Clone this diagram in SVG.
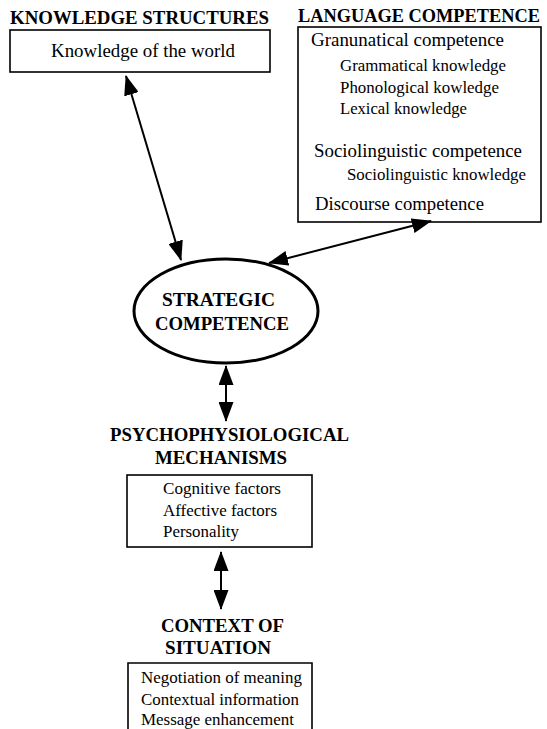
<svg xmlns="http://www.w3.org/2000/svg" width="547" height="729" viewBox="0 0 547 729">
<style>
text{font-family:"Liberation Serif","Times New Roman",serif;fill:#000}
.t{font-weight:bold;font-size:19px}
.b{font-size:19px}
.s{font-size:17px}
.box{fill:none;stroke:#000;stroke-width:1.6}
.conn{stroke:#000;stroke-width:2;fill:none;marker-start:url(#ah);marker-end:url(#ah)}
</style>
<defs>
<marker id="ah" viewBox="0 0 20 15" refX="19" refY="7.5" markerWidth="20" markerHeight="15" markerUnits="userSpaceOnUse" orient="auto-start-reverse">
<path d="M0,0 L20,7.5 L0,15 z" fill="#000"/>
</marker>
</defs>
<rect width="547" height="729" fill="#fff"/>
<g id="knowledge">
<rect class="box" x="10" y="30" width="260" height="42"/>
<text class="t" x="10" y="24" textLength="259" lengthAdjust="spacingAndGlyphs">KNOWLEDGE STRUCTURES</text>
<text class="b" x="51" y="57" textLength="184" lengthAdjust="spacingAndGlyphs">Knowledge of the world</text>
</g>
<g id="language">
<rect class="box" x="298" y="27" width="243" height="195"/>
<text class="t" x="298" y="22" style="font-size:18.3px" textLength="242" lengthAdjust="spacingAndGlyphs">LANGUAGE COMPETENCE</text>
<text class="b" x="311" y="46" textLength="193" lengthAdjust="spacingAndGlyphs">Granunatical competence</text>
<text class="s" x="340" y="71" textLength="166" lengthAdjust="spacingAndGlyphs">Grammatical knowledge</text>
<text class="s" x="340" y="93" textLength="159" lengthAdjust="spacingAndGlyphs">Phonological kowledge</text>
<text class="s" x="340" y="114" textLength="127" lengthAdjust="spacingAndGlyphs">Lexical knowledge</text>
<text class="b" x="314" y="157" textLength="208" lengthAdjust="spacingAndGlyphs">Sociolinguistic competence</text>
<text class="s" x="347" y="180" textLength="179" lengthAdjust="spacingAndGlyphs">Sociolinguistic knowledge</text>
<text class="b" x="315" y="210" textLength="169" lengthAdjust="spacingAndGlyphs">Discourse competence</text>
</g>
<g id="strategic">
<ellipse cx="226" cy="311" rx="92" ry="52" fill="#fff" stroke="#000" stroke-width="3"/>
<text class="t" x="162" y="306" textLength="113" lengthAdjust="spacingAndGlyphs">STRATEGIC</text>
<text class="t" x="155" y="330" textLength="134" lengthAdjust="spacingAndGlyphs">COMPETENCE</text>
</g>
<g id="psycho">
<rect class="box" x="127" y="475" width="185" height="72"/>
<text class="t" x="110" y="441" textLength="239" lengthAdjust="spacingAndGlyphs">PSYCHOPHYSIOLOGICAL</text>
<text class="t" x="155" y="464" textLength="132" lengthAdjust="spacingAndGlyphs">MECHANISMS</text>
<text class="s" x="163" y="494" textLength="118" lengthAdjust="spacingAndGlyphs">Cognitive factors</text>
<text class="s" x="163" y="516" textLength="114" lengthAdjust="spacingAndGlyphs">Affective factors</text>
<text class="s" x="163" y="537" textLength="76" lengthAdjust="spacingAndGlyphs">Personality</text>
</g>
<g id="context">
<path class="box" d="M128,732 V663 H312 V732"/>
<text class="t" x="161" y="632" textLength="123" lengthAdjust="spacingAndGlyphs">CONTEXT OF</text>
<text class="t" x="165" y="654" textLength="106" lengthAdjust="spacingAndGlyphs">SITUATION</text>
<text class="s" x="141" y="683" textLength="161" lengthAdjust="spacingAndGlyphs">Negotiation of meaning</text>
<text class="s" x="141" y="705" textLength="158" lengthAdjust="spacingAndGlyphs">Contextual information</text>
<text class="s" x="141" y="725" textLength="153" lengthAdjust="spacingAndGlyphs">Message enhancement</text>
</g>
<g id="connectors">
<line class="conn" x1="126" y1="76" x2="181" y2="260"/>
<line class="conn" x1="431" y1="221" x2="269" y2="263"/>
<line class="conn" x1="226" y1="366" x2="226" y2="421"/>
<line class="conn" x1="221" y1="552" x2="221" y2="609"/>
</g>
</svg>
